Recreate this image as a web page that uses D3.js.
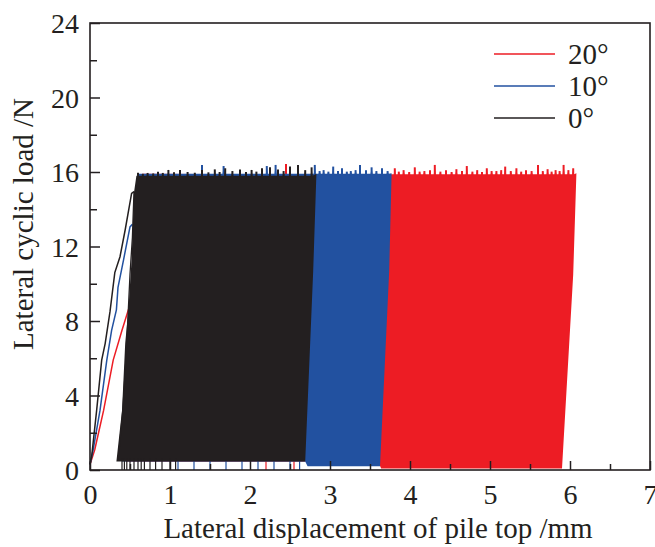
<!DOCTYPE html>
<html>
<head>
<meta charset="utf-8">
<script src="https://cdn.jsdelivr.net/npm/d3@7"></script>
<style>
  body { margin: 0; background: #fff; }
  svg text { font-family: "Liberation Serif", "Times New Roman", serif; fill: #231f20; }
</style>
</head>
<body>
<script>
const w = 655;
const h = 547;
const margin = { top: 23, right: 5, bottom: 77, left: 90 };

// legend order top to bottom
const seriesNames = ["20°", "10°", "0°"];
const seriesColors = ["#ed1c24", "#2251a0", "#231f20"];

const xTicks = [0, 1, 2, 3, 4, 5, 6, 7];
const yTicks = [0, 4, 8, 12, 16, 20, 24];

// first loading branch [displacement, load]
const loading20 = [[0, 0.3], [0.06, 1.1], [0.17, 3.2], [0.29, 5.9], [0.4, 7.5], [0.48, 8.6], [0.5, 8.8]];
const loading10 = [[0, 0.3], [0.04, 1.1], [0.125, 3.2], [0.21, 5.9], [0.27, 7.5], [0.33, 8.6], [0.35, 9.8], [0.42, 11.3], [0.5, 13.05], [0.53, 13.2]];
const loading0 = [[0, 0.3], [0.02, 0.7], [0.083, 3.2], [0.146, 5.9], [0.19, 6.8], [0.25, 8.5], [0.31, 10.6], [0.375, 11.45], [0.44, 12.9], [0.52, 14.85], [0.55, 14.95]];
const unloading0 = [[0.55, 14.95], [0.53, 12.5], [0.5, 10.5], [0.48, 8.7], [0.45, 6], [0.41, 3.2], [0.36, 0.9]];

// envelope of the cyclic loops: left edge (bottom→top), right edge (top→bottom)
const left0 = [[0.33, 0.45], [0.40, 3.2], [0.44, 6.8], [0.48, 8.6], [0.52, 11.3], [0.55, 14.9], [0.58, 15.8]];
const right0 = [[2.83, 15.9], [2.79, 10.7], [2.69, 0.45]];
const left10 = [[0.4, 0.45], [0.5, 8], [0.6, 15.9]];
const right10 = [[3.77, 15.93], [3.74, 10.7], [3.625, 0.2]];
const bottom10 = [[3.625, 0.2], [2.72, 0.2], [2.69, 0.45]];
const left20 = [[0.45, 0.45], [0.55, 8], [0.65, 15.9]];
const right20 = [[6.08, 15.93], [6.04, 10.5], [5.90, 0.08]];
const bottom20 = [[5.9, 0.08], [3.64, 0.08], [3.6, 0.45]];

// peak load of single cycles that stick out of the top [displacement, load]
const peaks0 = [[0.6, 15.96], [0.66, 15.9], [0.72, 15.95], [0.79, 15.92], [0.85, 16.02], [0.91, 15.95], [0.98, 16.11], [1.05, 15.98], [1.125, 16.11], [1.22, 16.0], [1.31, 15.96], [1.40, 16.11], [1.48, 15.98], [1.56, 16.14], [1.62, 16.0], [1.69, 16.2], [1.78, 16.05], [1.875, 16.14], [1.95, 16.0], [2.02, 16.11], [2.08, 16.02], [2.15, 16.2], [2.25, 16.25], [2.35, 16.14], [2.42, 16.05], [2.5, 16.29], [2.6, 16.38], [2.69, 16.1], [2.77, 16.25]];
const peaks10 = [[1.40, 16.38], [1.67, 16.32], [2.21, 16.32], [2.32, 16.38], [2.81, 16.38], [2.87, 16.05], [2.92, 16.1], [2.98, 16.02], [3.04, 16.29], [3.1, 16.05], [3.15, 16.2], [3.21, 16.02], [3.26, 16.05], [3.32, 16.1], [3.375, 16.38], [3.45, 16.1], [3.52, 16.25], [3.58, 16.05], [3.65, 16.2], [3.72, 16.05]];
const peaks20 = [[2.45, 16.43], [3.81, 16.2], [3.86, 16.02], [3.92, 16.1], [3.99, 16.0], [4.06, 16.25], [4.12, 16.02], [4.18, 16.05], [4.25, 16.1], [4.31, 16.38], [4.38, 16.02], [4.45, 16.1], [4.52, 16.0], [4.58, 16.15], [4.65, 16.05], [4.71, 16.32], [4.78, 16.02], [4.84, 16.1], [4.9, 16.0], [4.96, 16.2], [5.02, 16.05], [5.08, 16.05], [5.14, 16.1], [5.19, 16.29], [5.26, 16.05], [5.33, 16.2], [5.39, 16.02], [5.45, 16.1], [5.52, 16.05], [5.60, 16.38], [5.66, 16.05], [5.72, 16.15], [5.77, 16.02], [5.82, 16.1], [5.87, 16.05], [5.92, 16.38], [5.98, 16.1], [6.04, 16.2]];
const topBase = [15.88, 15.9, 15.8];

// cycles that reach down to zero load below the envelope
const drops0 = [0.4, 0.43, 0.46, 0.5, 0.55, 0.6, 0.64, 0.68, 0.75, 0.82, 0.9, 1.0, 1.07];
const drops10 = [1.1, 1.3, 1.5, 1.7, 1.9, 2.1, 2.3, 2.5, 2.62];
const drops20 = [2.2, 2.55];

const svg = d3.select("body").append("svg").attr("width", w).attr("height", h);

const x = d3.scaleLinear().domain([0, 7]).range([margin.left, w - margin.right]);
const y = d3.scaleLinear().domain([0, 24]).range([h - margin.bottom, margin.top]);

const line = d3.line().x((d) => x(d[0])).y((d) => y(d[1]));

function envelope(left, peaks, base, right, bottom) {
  const pts = [...left];
  peaks
    .filter((p) => p[0] > left[left.length - 1][0] && p[0] < right[0][0])
    .forEach((p) => {
      pts.push([p[0] - 0.012, base], [p[0], p[1]], [p[0] + 0.012, base]);
    });
  pts.push(...right);
  if (bottom) pts.push(...bottom);
  return line(pts) + "Z";
}

const plot = svg.append("g");

const groups = [
  { left: left20, right: right20, bottom: bottom20, peaks: peaks20, drops: drops20, load: loading20 },
  { left: left10, right: right10, bottom: bottom10, peaks: peaks10, drops: drops10, load: loading10 },
  { left: left0, right: right0, bottom: null, peaks: peaks0, drops: drops0, load: loading0 },
];

groups.forEach((g, i) => {
  const c = seriesColors[i];
  const base = topBase[i];
  plot.append("path").attr("d", envelope(g.left, g.peaks, base, g.right, g.bottom)).attr("fill", c);
  plot.selectAll(null)
    .data(g.peaks)
    .enter().append("line")
    .attr("x1", (d) => x(d[0])).attr("x2", (d) => x(d[0]))
    .attr("y1", y(15.8)).attr("y2", (d) => y(d[1]))
    .attr("stroke", c).attr("stroke-width", 2);
  plot.selectAll(null)
    .data(g.drops)
    .enter().append("line")
    .attr("x1", (d) => x(d)).attr("x2", (d) => x(d))
    .attr("y1", y(0.6)).attr("y2", y(0))
    .attr("stroke", c).attr("stroke-width", 1.2);
  plot.append("path").attr("d", line(g.load)).attr("fill", "none").attr("stroke", c).attr("stroke-width", 1.5);
});
plot.append("path").attr("d", line(unloading0)).attr("fill", "none").attr("stroke", seriesColors[2]).attr("stroke-width", 1.3);

// axes: inward ticks, major + minor
const axisColor = "#231f20";
const xAxis = d3.axisBottom(x).tickValues(xTicks).tickSizeInner(-9).tickSizeOuter(0).tickPadding(14).tickFormat(d3.format("d"));
const xMinor = d3.axisBottom(x).tickValues(d3.range(0.5, 7, 1)).tickSizeInner(-6).tickSizeOuter(0).tickFormat("");
const yAxis = d3.axisLeft(y).tickValues(yTicks).tickSizeInner(-10).tickSizeOuter(0).tickPadding(11).tickFormat(d3.format("d"));
const yMinor = d3.axisLeft(y).tickValues(d3.range(2, 24, 4)).tickSizeInner(-7).tickSizeOuter(0).tickFormat("");

svg.append("g").attr("transform", `translate(0,${h - margin.bottom})`).call(xAxis);
svg.append("g").attr("transform", `translate(0,${h - margin.bottom})`).call(xMinor);
const gy = svg.append("g").attr("transform", `translate(${margin.left},0)`).call(yAxis);
svg.append("g").attr("transform", `translate(${margin.left},0)`).call(yMinor);

svg.selectAll(".domain").remove();
svg.selectAll(".tick line").attr("stroke", axisColor).attr("stroke-width", 1.5);
svg.selectAll(".tick text").attr("font-size", 28).attr("font-family", "Liberation Serif").attr("fill", axisColor);
gy.selectAll(".tick text").attr("dy", "0.34em");

svg.append("rect")
  .attr("x", x(0)).attr("y", y(24))
  .attr("width", x(7) - x(0)).attr("height", y(0) - y(24))
  .attr("fill", "none").attr("stroke", axisColor).attr("stroke-width", 1.6);

// titles
svg.append("text")
  .attr("x", 378).attr("y", 538)
  .attr("text-anchor", "middle").attr("font-size", 29)
  .text("Lateral displacement of pile top /mm");
svg.append("text")
  .attr("transform", "translate(33,224) rotate(-90)")
  .attr("text-anchor", "middle").attr("font-size", 29)
  .text("Lateral cyclic load /N");

// legend
const legend = svg.append("g").attr("transform", "translate(494,54)");
seriesNames.forEach((name, i) => {
  legend.append("line")
    .attr("x1", 0).attr("x2", 61).attr("y1", i * 32).attr("y2", i * 32)
    .attr("stroke", seriesColors[i]).attr("stroke-width", 1.5);
  legend.append("text")
    .attr("x", 74).attr("y", i * 32).attr("dy", "0.35em")
    .attr("font-size", 29).attr("font-weight", 300)
    .text(name);
});
</script>
</body>
</html>
